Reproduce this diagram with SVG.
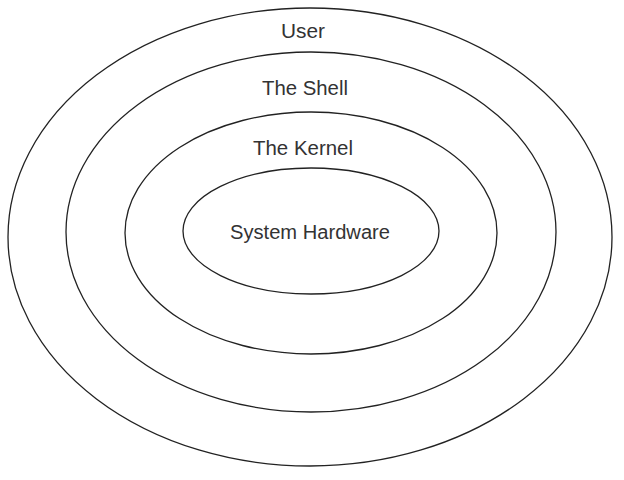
<svg xmlns="http://www.w3.org/2000/svg" width="624" height="480" viewBox="0 0 624 480">
<style>
.ring{fill:none;stroke:#222;stroke-width:1.3}
.lbl{font-family:"Liberation Sans",Arial,sans-serif;font-size:19.5px;fill:#333;text-anchor:middle}
</style>
<rect width="624" height="480" fill="#fff"/>
<g id="user">
<ellipse class="ring" cx="310" cy="237" rx="302" ry="229"/>
<text class="lbl" x="303" y="38" textLength="44" lengthAdjust="spacingAndGlyphs">User</text>
</g>
<g id="shell">
<ellipse class="ring" cx="311" cy="232" rx="245" ry="180"/>
<text class="lbl" x="305" y="95" textLength="86" lengthAdjust="spacingAndGlyphs">The Shell</text>
</g>
<g id="kernel">
<ellipse class="ring" cx="311" cy="233" rx="186" ry="121"/>
<text class="lbl" x="303" y="155" textLength="100" lengthAdjust="spacingAndGlyphs">The Kernel</text>
</g>
<g id="hardware">
<ellipse class="ring" cx="311" cy="231" rx="128" ry="63"/>
<text class="lbl" x="310" y="239" textLength="160" lengthAdjust="spacingAndGlyphs">System Hardware</text>
</g>
<g id="connectors"/>
</svg>
